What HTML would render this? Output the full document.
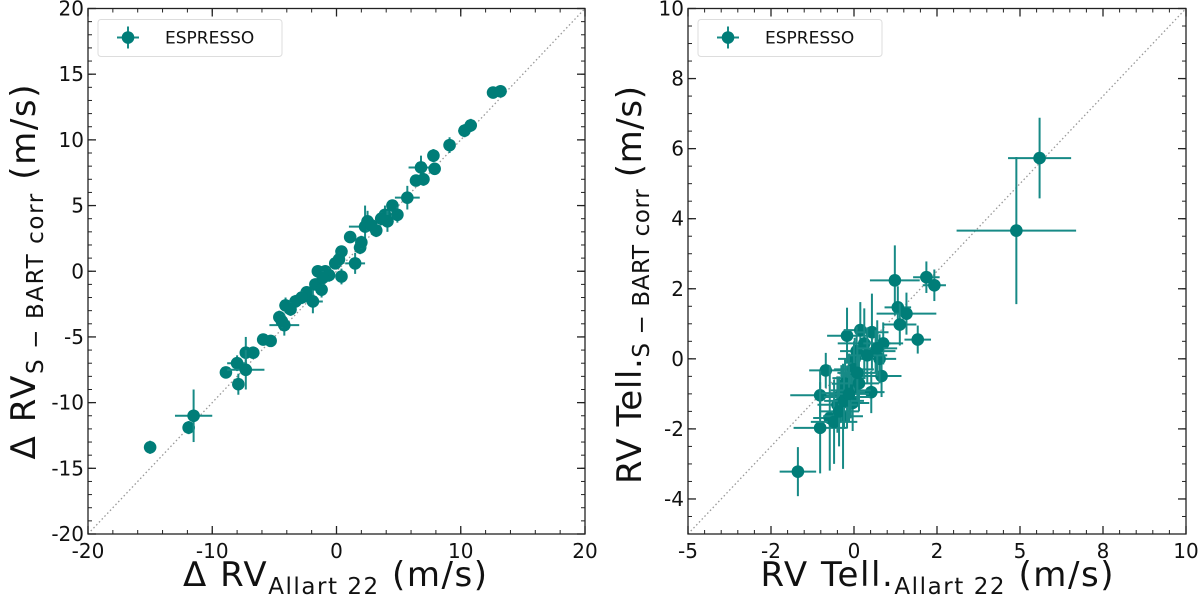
<!DOCTYPE html>
<html><head><meta charset="utf-8"><style>
html,body{margin:0;padding:0;background:#fff;}
svg{display:block;font-family:"DejaVu Sans","Liberation Sans",sans-serif;}
</style></head><body>
<svg id="fig" width="1200" height="596" viewBox="0 0 1200 596" xmlns="http://www.w3.org/2000/svg"></svg>
<script>
// Left panel data
const leftX = [-15,-11.9,-11.5,-8.9,-7.9,-8,-7.3,-7.3,-6.7,-5.9,-5.3,-4.6,-4.2,-4.1,-3.3,-2.4,-1.9,-1.7,-1.2,-1.5,-0.9,-0.6,-0.1,0.4,0.4,1.1,1.5,1.9,2.3,2.5,3.2,3.9,4.1,4.5,4.9,5.7,6.4,6.8,7.0,7.8,7.9,9.1,10.3,10.8,12.6,13.2,-4.4,-3.7,-2.8,-1.1,0.2,2.0,2.8,3.6];
const leftY = [-13.4,-11.9,-11,-7.7,-8.6,-7,-6.2,-7.5,-6.2,-5.2,-5.3,-3.5,-4.1,-2.6,-2.3,-1.6,-2.3,-1,-1.4,0,0,-0.3,0.6,1.5,-0.4,2.6,0.6,1.8,3.4,3.8,3.1,4.3,3.8,5.0,4.3,5.6,6.9,7.9,7.0,8.8,7.8,9.6,10.7,11.1,13.6,13.7,-3.8,-2.9,-2.0,-0.5,0.9,2.2,3.5,4.0];
const leftXErr = [0.3,0.4,1.5,0.3,0.3,0.8,0.3,1.5,0.3,0.3,0.3,0.3,1.2,0.5,0.5,0.4,0.8,0.4,0.3,0.3,0.3,0.3,0.4,0.3,0.3,0.4,0.8,0.5,1.3,0.5,0.4,0.5,0.5,0.3,0.3,1.0,0.3,1.0,0.3,0.3,0.3,0.3,0.5,0.5,0.3,0.3,0.4,0.4,0.4,0.4,0.4,0.4,0.4,0.4];
const leftYErr = [0.5,0.5,2.0,0.4,0.8,0.6,1.2,1.5,0.4,0.4,0.3,0.5,0.8,0.6,0.5,0.4,0.9,0.4,0.6,0.3,0.3,0.5,0.4,0.4,0.6,0.4,0.8,0.5,1.6,0.8,0.5,0.7,0.8,0.4,0.6,0.9,0.4,0.9,0.5,0.5,0.4,0.6,0.5,0.5,0.3,0.4,0.5,0.5,0.5,0.5,0.5,0.5,0.5,0.5];
// Right panel data
const rightX = [-1.69,5.59,4.89,1.23,2.18,2.42,1.32,1.58,1.38,1.92,-0.85,-1.02,-1.02,-0.73,-0.33,-0.38,-0.21,0.19,0.54,0.65,0.83,0.52,0.77,0.02,-0.15,-0.21,-0.04,-0.5,0.31,0.88,0.08,-0.27,-0.6,-0.45,-0.1,0.0,0.15,0.4,0.7,-0.3,-0.15,0.1];
const rightY = [-3.22,5.73,3.66,2.24,2.33,2.1,1.47,1.29,0.98,0.55,-0.33,-1.04,-1.97,-1.69,-1.64,-0.98,0.66,0.82,0.76,0.22,-0.49,-0.95,0,0,-0.55,-1.09,-1.26,-1.31,0.44,0.44,0.22,-0.71,-1.8,-1.5,-0.9,-0.3,-0.7,0.1,0.3,-1.2,-1.0,-0.4];
const rightXErr = [0.55,0.95,1.8,0.75,0.4,0.35,0.4,0.9,0.5,0.4,0.5,0.9,0.8,0.5,0.6,0.6,0.6,0.5,0.5,0.6,0.6,0.4,0.5,0.5,0.5,0.7,0.5,0.6,0.8,0.6,0.5,0.4,0.7,0.6,0.6,0.6,0.6,0.6,0.6,0.6,0.6,0.6];
const rightYErr = [0.7,1.15,2.1,1.0,0.45,0.45,0.6,0.6,0.6,0.4,0.5,0.7,1.3,1.5,1.5,0.8,0.8,0.8,1.1,0.6,0.6,0.6,0.7,0.6,0.7,0.9,0.8,0.8,1.0,0.6,0.7,0.7,1.2,1.0,0.8,0.8,0.8,0.8,0.8,0.8,0.8,0.8];
const leftTicks = [-20,-10,0,10,20];
const leftTickLabels = ["-20","-10","0","10","20"];
const leftYTicks = [-20,-15,-10,-5,0,5,10,15,20];
const leftYTickLabels = ["-20","-15","-10","-5","0","5","10","15","20"];
const rightTicks = [-5,-2.5,0,2.5,5,7.5,10];
const rightTickLabels = ["-5","-2","0","2","5","8","10"];
const rightYTicks = [-4,-2,0,2,4,6,8,10];
const rightYTickLabels = ["-4","-2","0","2","4","6","8","10"];

const NS="http://www.w3.org/2000/svg";
const svg=document.getElementById('fig');
function mk(tag,attrs,parent){const e=document.createElementNS(NS,tag);for(const k in attrs)e.setAttribute(k,attrs[k]);(parent||svg).appendChild(e);return e;}
const COL="#007d78", ECOL="#178a86";

function panel(o){
  const g=mk('g',{});
  
  
  const sx=v=>o.x0+(v-o.xmin)/(o.xmax-o.xmin)*(o.x1-o.x0);
  const sy=v=>o.y1-(v-o.ymin)/(o.ymax-o.ymin)*(o.y1-o.y0);
  const lo=Math.max(o.xmin,o.ymin), hi=Math.min(o.xmax,o.ymax);
  const d=mk('line',{x1:sx(lo),y1:sy(lo),x2:sx(hi),y2:sy(hi),stroke:'#999','stroke-width':1.3,'stroke-dasharray':'1.5,2.5'},g);
  
  
  for(let i=0;i<o.X.length;i++){
    const pg=mk('g',{},g);
    
    
    const cx=sx(o.X[i]), cy=sy(o.Y[i]);
    mk('line',{x1:sx(o.X[i]-o.XE[i]),x2:sx(o.X[i]+o.XE[i]),y1:cy,y2:cy,stroke:ECOL,'stroke-width':2},pg);
    mk('line',{x1:cx,x2:cx,y1:sy(o.Y[i]-o.YE[i]),y2:sy(o.Y[i]+o.YE[i]),stroke:ECOL,'stroke-width':2},pg);
    mk('circle',{cx:cx,cy:cy,r:6.3,fill:COL},pg);
  }
  const f=mk('rect',{x:o.x0,y:o.y0,width:o.x1-o.x0,height:o.y1-o.y0,fill:'none',stroke:'#222','stroke-width':1.3},g);
  
  
  for(let v=o.xmin;v<=o.xmax+1e-9;v+=o.xminor){const x=sx(v);
    mk('line',{x1:x,x2:x,y1:o.y1,y2:o.y1-4,stroke:'#222','stroke-width':1},g);
    mk('line',{x1:x,x2:x,y1:o.y0,y2:o.y0+4,stroke:'#222','stroke-width':1},g);}
  for(let v=o.ymin;v<=o.ymax+1e-9;v+=o.yminor){const y=sy(v);
    mk('line',{x1:o.x0,x2:o.x0+4,y1:y,y2:y,stroke:'#222','stroke-width':1},g);
    mk('line',{x1:o.x1,x2:o.x1-4,y1:y,y2:y,stroke:'#222','stroke-width':1},g);}
  o.xt.forEach((v,i)=>{const x=sx(v);
    mk('line',{x1:x,x2:x,y1:o.y1,y2:o.y1-8,stroke:'#222','stroke-width':1.3},g);
    mk('line',{x1:x,x2:x,y1:o.y0,y2:o.y0+8,stroke:'#222','stroke-width':1.3},g);
    const t=mk('text',{x:x,y:o.y1+24,'font-size':20,'text-anchor':'middle',fill:'#111'},g);t.textContent=o.xl[i];
    
    });
  o.yt.forEach((v,i)=>{const y=sy(v);
    mk('line',{x1:o.x0,x2:o.x0+8,y1:y,y2:y,stroke:'#222','stroke-width':1.3},g);
    mk('line',{x1:o.x1,x2:o.x1-8,y1:y,y2:y,stroke:'#222','stroke-width':1.3},g);
    const t=mk('text',{x:o.x0-4,y:y+7,'font-size':20,'text-anchor':'end',fill:'#111'},g);t.textContent=o.yl[i];
    
    });
  const lg=mk('g',{},g);
  
  
  mk('rect',{x:o.x0+10,y:o.y0+11,width:184,height:37,rx:3,fill:'#fff',stroke:'#ddd','stroke-width':1},lg);
  const lx=o.x0+40, ly=o.y0+29;
  mk('line',{x1:lx-11,x2:lx+11,y1:ly,y2:ly,stroke:ECOL,'stroke-width':2},lg);
  mk('line',{x1:lx,x2:lx,y1:ly-11,y2:ly+11,stroke:ECOL,'stroke-width':2},lg);
  mk('circle',{cx:lx,cy:ly,r:6.3,fill:COL},lg);
  const lt=mk('text',{x:o.x0+77,y:ly+6,'font-size':17,fill:'#111'},lg);lt.textContent='ESPRESSO';
  
  
  const xt=mk('text',{x:o.xcx-o.xlen/2,y:586,'font-size':34,fill:'#111',textLength:o.xlen,lengthAdjust:'spacing'},g);
  xt.innerHTML=o.xtitle;
  
  
  const yt=mk('text',{x:-o.ylen/2,y:0,'font-size':34,fill:'#111',textLength:o.ylen,lengthAdjust:'spacing',transform:`translate(${o.ytx},${o.ycy}) rotate(-90)`},g);
  yt.innerHTML=o.ytitle;
  
  
}
panel({name:'left-panel',x0:88,x1:585,y0:8.5,y1:534,xmin:-20,xmax:20,ymin:-20,ymax:20,xminor:2,yminor:1,
  xcx:335,xlen:304,ycy:272,ylen:375,
  X:leftX,Y:leftY,XE:leftXErr,YE:leftYErr,xt:leftTicks,xl:leftTickLabels,yt:leftYTicks,yl:leftYTickLabels,ytx:35,
  xtitle:'Δ RV<tspan font-size="23" dy="8">Allart 22</tspan><tspan dy="-8"> (m/s)</tspan>',
  ytitle:'Δ RV<tspan font-size="23" dy="8">S − BART corr</tspan><tspan dy="-8"> (m/s)</tspan>'});
panel({name:'right-panel',x0:688,x1:1186,y0:8.5,y1:534,xmin:-5,xmax:10,ymin:-5,ymax:10,xminor:0.5,yminor:0.5,
  xcx:937,xlen:353,ycy:285,ylen:398,
  X:rightX,Y:rightY,XE:rightXErr,YE:rightYErr,xt:rightTicks,xl:rightTickLabels,yt:rightYTicks,yl:rightYTickLabels,ytx:641,
  xtitle:'RV Tell.<tspan font-size="23" dy="8">Allart 22</tspan><tspan dy="-8"> (m/s)</tspan>',
  ytitle:'RV Tell.<tspan font-size="23" dy="8">S − BART corr</tspan><tspan dy="-8"> (m/s)</tspan>'});
</script>
</body></html>
